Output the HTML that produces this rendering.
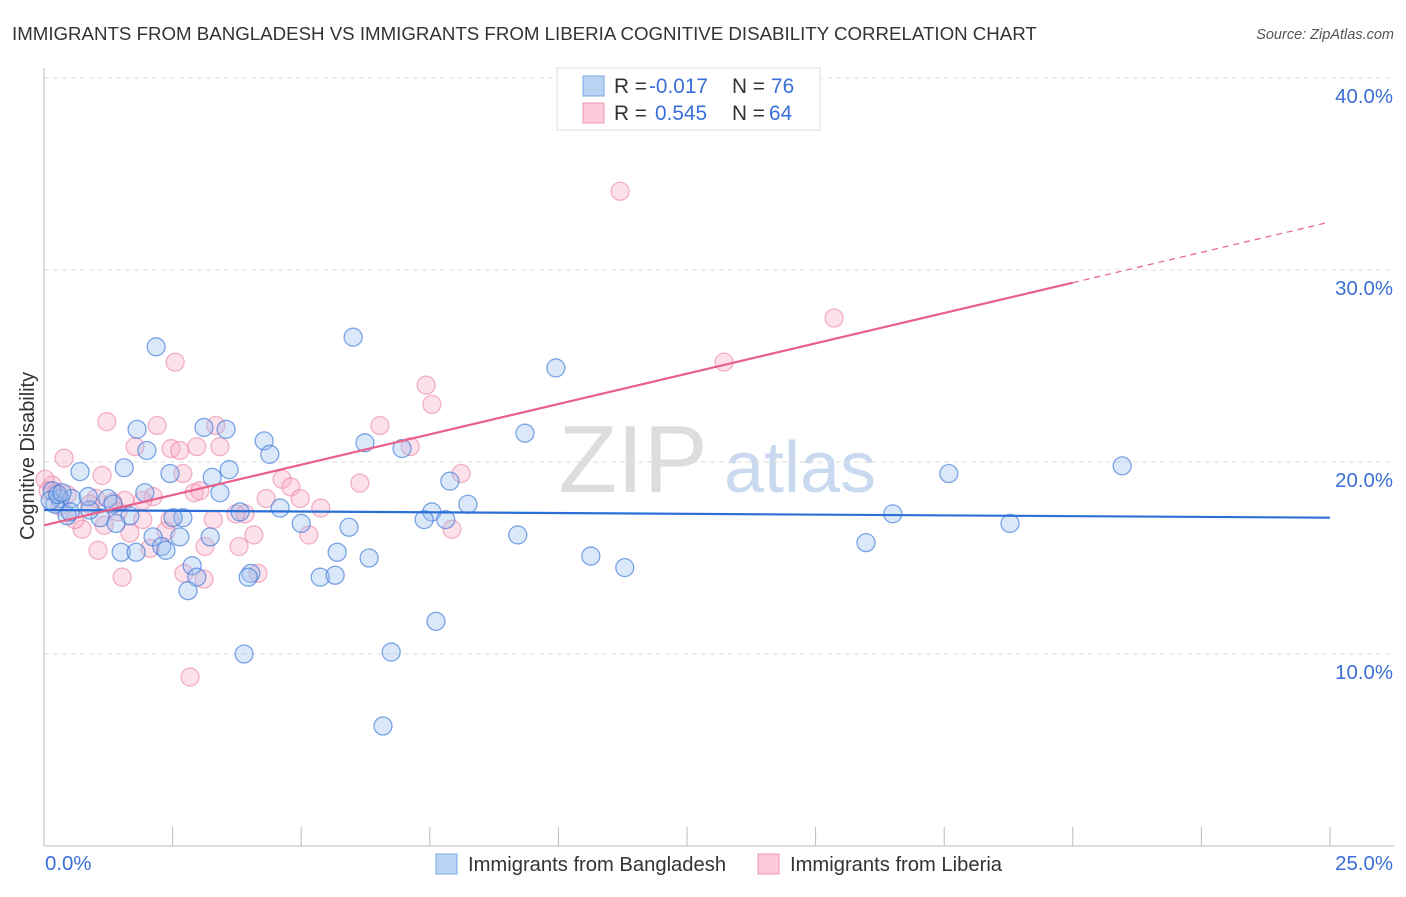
<!DOCTYPE html>
<html><head><meta charset="utf-8">
<style>
body{margin:0;background:#fff;font-family:"Liberation Sans",sans-serif;}
svg text{font-family:"Liberation Sans",sans-serif;}
</style></head>
<body>
<svg id="chart" width="1406" height="892" xmlns="http://www.w3.org/2000/svg">
<text x="12" y="40" font-size="18.7" fill="#333">IMMIGRANTS FROM BANGLADESH VS IMMIGRANTS FROM LIBERIA COGNITIVE DISABILITY CORRELATION CHART</text>
<text x="1394" y="39" font-size="14.5" fill="#555" text-anchor="end" font-style="italic">Source: ZipAtlas.com</text>
<text x="633" y="492" font-size="96" fill="#ddd" text-anchor="middle" font-family="Liberation Serif">ZIP</text>
<text x="800" y="492" font-size="72" fill="#c9daf0" text-anchor="middle">atlas</text>
<g id="grid"></g>
<g id="axes"></g>
<g id="pts"></g>
<g id="lines"></g>
<text transform="translate(34,456) rotate(-90)" font-size="19.9" fill="#333" text-anchor="middle">Cognitive Disability</text>
<g>
<rect x="557" y="68" width="263" height="62" fill="#fff" stroke="#ddd"/>
<rect x="583" y="76" width="21" height="20" fill="#b9d3f5" stroke="#7ba7e6"/>
<rect x="583" y="103" width="21" height="20" fill="#fbcbd9" stroke="#ef9ab4"/>
<text x="614" y="93" font-size="20.8" fill="#333">R = </text><text x="649" y="93" font-size="20.8" fill="#3a6fd8">-0.017</text>
<text x="732" y="93" font-size="20.8" fill="#333">N = </text><text x="771" y="93" font-size="20.8" fill="#3a6fd8">76</text>
<text x="614" y="120" font-size="20.8" fill="#333">R = </text><text x="655" y="120" font-size="20.8" fill="#3a6fd8">0.545</text>
<text x="732" y="120" font-size="20.8" fill="#333">N = </text><text x="769" y="120" font-size="20.8" fill="#3a6fd8">64</text>
</g>
<g>
<rect x="436" y="854" width="21" height="20" fill="#b9d3f5" stroke="#7ba7e6"/>
<text x="468" y="871" font-size="20.2" fill="#333">Immigrants from Bangladesh</text>
<rect x="758" y="854" width="21" height="20" fill="#fbcbd9" stroke="#ef9ab4"/>
<text x="790" y="871" font-size="20.2" fill="#333">Immigrants from Liberia</text>
</g>
</svg>
<script>
const yTicks=[10,20,30,40];
const yTickLabels=["10.0%","20.0%","30.0%","40.0%"];
const xEndLabels=["0.0%","25.0%"];
const blueX=[2.18,6.01,9.95,9.35,6.24,4.28,4.39,6.96,1.81,2.0,3.11,3.54,0.70,1.56,2.45,3.27,3.60,3.42,20.96,17.59,7.89,8.24,7.54,7.39,7.81,16.5,18.78,9.21,5.93,5.0,4.59,2.70,2.51,1.67,1.09,0.89,0.31,0.21,1.24,1.34,1.96,1.40,0.45,2.64,2.12,2.29,2.37,3.23,1.50,1.79,5.70,6.32,10.63,11.29,15.98,2.88,2.97,4.02,3.97,5.37,5.66,2.80,7.62,3.89,6.75,6.59,0.16,0.12,0.54,0.86,0.27,3.81,0.51,0.35];
const blueY=[26.0,26.5,24.9,21.5,21.0,21.1,20.4,20.7,21.7,20.6,21.8,21.7,19.5,19.7,19.4,19.2,19.6,18.4,19.8,19.4,19.0,17.8,17.4,17.0,17.0,17.3,16.8,16.2,16.6,16.8,17.6,17.1,17.1,17.2,17.1,17.5,18.1,17.8,18.1,17.8,18.4,16.8,17.2,16.1,16.1,15.6,15.4,16.1,15.3,15.3,15.3,15.0,15.1,14.5,15.8,14.6,14.0,14.2,14.0,14.0,14.1,13.3,11.7,10.0,10.1,6.25,18.5,18.0,18.1,18.2,18.3,17.4,17.4,18.4];
const pinkX=[11.2,15.36,13.22,2.55,7.43,7.54,1.22,2.20,3.34,6.53,1.77,2.47,2.64,2.97,3.42,0.39,7.12,8.11,1.13,2.70,4.63,6.14,4.80,2.92,2.12,4.32,4.98,1.01,1.57,1.92,1.34,0.45,0.16,0.02,0.25,5.38,3.91,3.73,2.45,3.29,1.92,1.44,0.74,1.17,1.67,2.37,7.93,5.15,3.13,3.79,1.05,2.06,2.72,4.16,3.11,1.52,2.84,0.89,0.60,0.31,0.08,3.03,4.08];
const pinkY=[34.1,27.5,25.2,25.2,24.0,23.0,22.1,21.9,21.9,21.9,20.8,20.7,20.6,20.8,20.8,20.2,20.8,19.4,19.3,19.4,19.1,18.9,18.7,18.4,18.2,18.1,18.1,18.1,18.0,18.0,17.9,18.3,18.8,19.1,18.4,17.6,17.3,17.3,17.0,17.0,17.0,17.4,16.5,16.7,16.3,16.4,16.5,16.2,15.6,15.6,15.4,15.5,14.2,14.2,13.9,14.0,8.8,17.8,17.0,17.7,18.5,18.5,16.2];
const blueTrend=[17.5,17.1];
const pinkTrend=[16.7,32.5];
const pinkSolidEnd=20;

const NS="http://www.w3.org/2000/svg";
const X0=44,X1=1330,Y0=846,PPY=19.2;
const sx=v=>X0+(v/25)*(X1-X0);
const sy=v=>Y0-v*PPY;
function mk(tag,attrs,parent){const e=document.createElementNS(NS,tag);for(const k in attrs)e.setAttribute(k,attrs[k]);parent.appendChild(e);return e;}
const grid=document.getElementById('grid'),axes=document.getElementById('axes'),pts=document.getElementById('pts'),lines=document.getElementById('lines');
yTicks.forEach((t,i)=>{
  const g=mk('line',{x1:X0,x2:1394,y1:sy(t),y2:sy(t),stroke:'#ddd','stroke-dasharray':'5,4'},grid);
  
  
  const l=mk('text',{x:1393,y:sy(t)+25,'font-size':20.4,fill:'#3a6fd8','text-anchor':'end'},axes);
  l.textContent=yTickLabels[i];
  
  
});
const ya=mk('line',{x1:X0,x2:X0,y1:68,y2:Y0,stroke:'#bbb'},axes);


const xa=mk('line',{x1:X0,x2:1394,y1:Y0,y2:Y0,stroke:'#bbb'},axes);


for(let i=1;i<=10;i++){
  const x=X0+i*(X1-X0)/10;
  const t=mk('line',{x1:x,x2:x,y1:Y0-19,y2:Y0,stroke:'#bbb'},axes);
  
  
}
const xl0=mk('text',{x:45,y:870,'font-size':20.4,fill:'#3a6fd8'},axes);xl0.textContent=xEndLabels[0];


const xl1=mk('text',{x:1393,y:870,'font-size':20.4,fill:'#3a6fd8','text-anchor':'end'},axes);xl1.textContent=xEndLabels[1];


pinkX.forEach((v,i)=>{
  const c=mk('circle',{cx:sx(v),cy:sy(pinkY[i]),r:9,fill:'rgba(248,170,195,0.35)',stroke:'rgba(235,130,165,0.6)','stroke-width':1.3},pts);
  
  
});
blueX.forEach((v,i)=>{
  const c=mk('circle',{cx:sx(v),cy:sy(blueY[i]),r:9,fill:'rgba(150,190,240,0.35)',stroke:'rgba(60,120,215,0.65)','stroke-width':1.3},pts);
  
  
});
const bl=mk('line',{x1:sx(0),y1:sy(blueTrend[0]),x2:sx(25),y2:sy(blueTrend[1]),stroke:'#2b6fd6','stroke-width':2.2},lines);


const pm=pinkTrend[0]+(pinkTrend[1]-pinkTrend[0])*pinkSolidEnd/25;
const pl=mk('line',{x1:sx(0),y1:sy(pinkTrend[0]),x2:sx(pinkSolidEnd),y2:sy(pm),stroke:'#e8608a','stroke-width':2.2},lines);


const pd=mk('line',{x1:sx(pinkSolidEnd),y1:sy(pm),x2:sx(25),y2:sy(pinkTrend[1]),stroke:'#e8608a','stroke-width':1.2,'stroke-dasharray':'6,5'},lines);


</script>
</body></html>
